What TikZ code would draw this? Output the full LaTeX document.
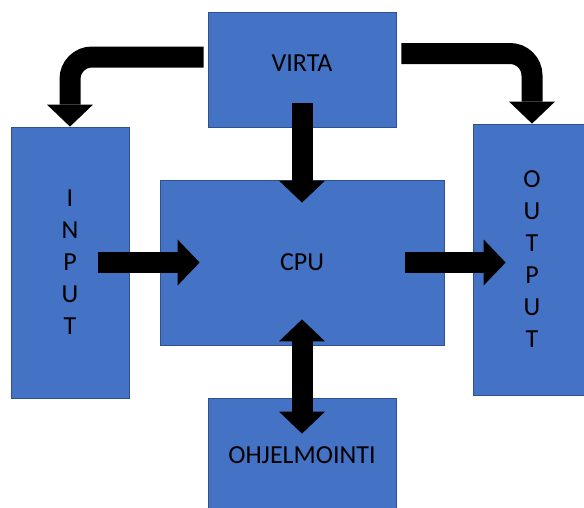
\documentclass[tikz,border=0pt]{standalone}
\usepackage{fontspec}
\setmainfont{Carlito}
\usetikzlibrary{arrows.meta}
\definecolor{officeblue}{HTML}{4472C4}
\definecolor{officeedge}{HTML}{2F528F}
\begin{document}
\begin{tikzpicture}[x=1pt,y=-1pt]
\tikzstyle{box}=[rectangle,draw=officeedge,line width=0.8pt,fill=officeblue,inner sep=0pt,font=\fontsize{26}{32}\selectfont,align=center]
  \tikzstyle{bigarrow}=[line width=21pt,-{Triangle[width=46pt,length=22pt,line width=0pt]}]
  \tikzstyle{bothways}=[line width=21pt,{Triangle[width=46pt,length=22pt,line width=0pt]}-{Triangle[width=46pt,length=22pt,line width=0pt]}]

  \useasboundingbox (0,0) rectangle (584,507);

  \node[box,minimum width=188pt,minimum height=115pt,text depth=12pt] (virta) at (302,69.5) {VIRTA};
  \node[box,minimum width=118pt,minimum height=271pt] (input) at (70,262.5) {I\\N\\P\\U\\T};
  \node[box,minimum width=284pt,minimum height=165pt] (cpu) at (302,262.5) {CPU};
  \node[box,minimum width=118pt,minimum height=271pt] (output) at (532,259.5) {O\\U\\T\\P\\U\\T};
  \node[box,minimum width=188pt,minimum height=115pt] (ohjelmointi) at (302,455.5) {OHJELMOINTI};

  \draw[bigarrow,rounded corners=22pt] ([xshift=-4pt,yshift=12.5pt]virta.west) -| (input.north);
  \draw[bigarrow,rounded corners=22pt] ([xshift=5pt,yshift=16pt]virta.east) -| (output.north);
  \draw[bigarrow] ([yshift=24pt]virta.south) -- ([yshift=-23pt]cpu.north);
  \draw[bigarrow] ([xshift=-31pt]input.east) -- ([xshift=40pt]cpu.west);
  \draw[bigarrow] ([xshift=-39pt]cpu.east) -- ([xshift=33pt]output.west |- cpu.east);
  \draw[bothways] ([yshift=26pt]cpu.south) -- ([yshift=-36pt]ohjelmointi.north);
\end{tikzpicture}
\end{document}
